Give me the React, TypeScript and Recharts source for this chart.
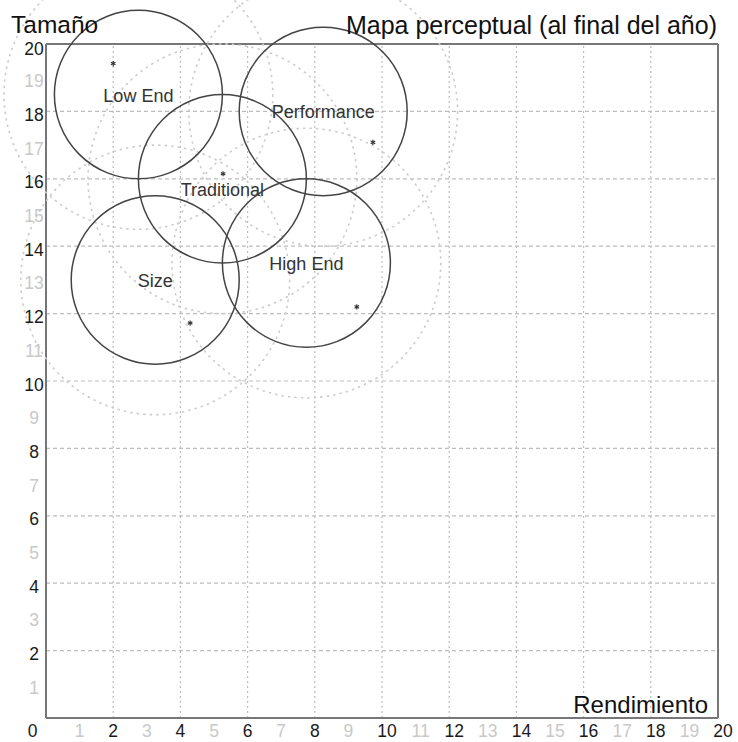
import React from 'react';
import * as R from 'recharts';

const { ScatterChart, Scatter, XAxis, YAxis, ReferenceLine } = R as any;

// ---- data ----
const segmentNames = ['Low End', 'Traditional', 'Performance', 'Size', 'High End'];
const centerX = [2.75, 5.25, 8.25, 3.25, 7.75];
const centerY = [18.5, 16.0, 18.0, 13.0, 13.5];
const idealX = [2.0, 5.27, 9.73, 4.29, 9.25];
const idealY = [19.42, 16.15, 17.08, 11.72, 12.2];
const fineCutRadius = 2.5;
const roughCutRadius = 4;
const axisTicks = [0, 1, 2, 3, 4, 5, 6, 7, 8, 9, 10, 11, 12, 13, 14, 15, 16, 17, 18, 19, 20];
const gridTicks = [2, 4, 6, 8, 10, 12, 14, 16, 18];
const yAxisTitle = 'Tamaño';
const xAxisTitle = 'Rendimiento';
const chartTitle = 'Mapa perceptual (al final del año)';

const segmentData = segmentNames.map((name, i) => ({ name, x: centerX[i], y: centerY[i] }));
const idealData = segmentNames.map((name, i) => ({ name, x: idealX[i], y: idealY[i] }));

// ---- layout ----
const W = 738;
const H = 742;
const MARGIN = { top: 44, right: 20, left: 0, bottom: 0 };
const Y_AXIS_W = 46;
const X_AXIS_H = 24;
const FONT = '"Liberation Sans", Arial, Helvetica, sans-serif';
const labelShift: Record<string, number> = { Traditional: 10 };

function usePxPerUnit() {
  const anyR = R as any;
  const plot = anyR.usePlotArea ? anyR.usePlotArea() : undefined;
  const xd = anyR.useXAxisDomain ? anyR.useXAxisDomain(0) : undefined;
  const yd = anyR.useYAxisDomain ? anyR.useYAxisDomain(0) : undefined;
  const pw = plot && plot.width ? plot.width : W - MARGIN.left - MARGIN.right - Y_AXIS_W;
  const ph = plot && plot.height ? plot.height : H - MARGIN.top - MARGIN.bottom - X_AXIS_H;
  const xs = xd && xd.length ? Number(xd[xd.length - 1]) - Number(xd[0]) : 20;
  const ys = yd && yd.length ? Number(yd[yd.length - 1]) - Number(yd[0]) : 20;
  return { kx: pw / (xs || 20), ky: ph / (ys || 20) };
}

function RoughCircle(props: any) {
  const { cx, cy } = props;
  const { kx, ky } = usePxPerUnit();
  if (cx == null || cy == null) return null;
  return (
    <ellipse
      cx={cx}
      cy={cy}
      rx={roughCutRadius * kx}
      ry={roughCutRadius * ky}
      fill="none"
      stroke="#cdcdcd"
      strokeWidth={1.6}
      strokeDasharray="2.5 4"
    />
  );
}

function FineCircle(props: any) {
  const { cx, cy, payload } = props;
  const { kx, ky } = usePxPerUnit();
  if (cx == null || cy == null) return null;
  const name = payload ? payload.name : '';
  return (
    <g>
      <ellipse
        cx={cx}
        cy={cy}
        rx={fineCutRadius * kx}
        ry={fineCutRadius * ky}
        fill="none"
        stroke="#444"
        strokeWidth={1.5}
      />
      <text
        x={cx}
        y={cy + (labelShift[name] || 0)}
        dy={7}
        textAnchor="middle"
        fontSize={18}
        fontFamily={FONT}
        fill="#333"
      >
        {name}
      </text>
    </g>
  );
}

function IdealMark(props: any) {
  const { cx, cy } = props;
  if (cx == null || cy == null) return null;
  const s = 2.6;
  return (
    <g stroke="#333" strokeWidth={1.2}>
      <line x1={cx} y1={cy - s} x2={cx} y2={cy + s} />
      <line x1={cx - s * 0.87} y1={cy - s * 0.5} x2={cx + s * 0.87} y2={cy + s * 0.5} />
      <line x1={cx - s * 0.87} y1={cy + s * 0.5} x2={cx + s * 0.87} y2={cy - s * 0.5} />
    </g>
  );
}

function XTick(props: any) {
  const { x, y, payload } = props;
  const v = Number(payload.value);
  const dx = v === 0 ? -13.5 : v >= 10 ? 5 : 0;
  return (
    <text
      x={x + dx}
      y={y}
      dy={19}
      textAnchor="middle"
      fontSize={17.5}
      fontFamily={FONT}
      fill={v % 2 === 0 ? '#1a1a1a' : '#c8c8c8'}
    >
      {v}
    </text>
  );
}

function YTick(props: any) {
  const { x, y, payload } = props;
  const v = Number(payload.value);
  if (v === 0) return null;
  return (
    <text
      x={x - 12}
      y={y}
      dy={v === 20 ? 11 : 9.5}
      textAnchor="middle"
      fontSize={17.5}
      fontFamily={FONT}
      fill={v % 2 === 0 ? '#1a1a1a' : '#c8c8c8'}
    >
      {v}
    </text>
  );
}

export default function App() {
  return (
    <div style={{ position: 'absolute', left: 0, top: 0, width: W, height: H, background: '#fff' }}>
      <ScatterChart width={W} height={H} margin={MARGIN} style={{ fontFamily: FONT }}>
        <XAxis
          type="number"
          dataKey="x"
          domain={[0, 20]}
          ticks={axisTicks}
          interval={0}
          height={X_AXIS_H}
          tickSize={0}
          tickMargin={0}
          tickLine={false}
          axisLine={{ stroke: '#777', strokeWidth: 2 }}
          tick={<XTick />}
        />
        <YAxis
          type="number"
          dataKey="y"
          domain={[0, 20]}
          ticks={axisTicks}
          interval={0}
          width={Y_AXIS_W}
          tickSize={0}
          tickMargin={0}
          tickLine={false}
          axisLine={{ stroke: '#777', strokeWidth: 2 }}
          tick={<YTick />}
        />
        {gridTicks.map((v) => (
          <ReferenceLine key={'h' + v} y={v} stroke="#bdbdbd" strokeWidth={1.2} strokeDasharray="4 3" ifOverflow="visible" />
        ))}
        {gridTicks.map((v) => (
          <ReferenceLine key={'v' + v} x={v} stroke="#bdbdbd" strokeWidth={1.2} strokeDasharray="2 3" ifOverflow="visible" />
        ))}
        <ReferenceLine y={20} stroke="#777" strokeWidth={2} ifOverflow="visible" />
        <ReferenceLine x={20} stroke="#777" strokeWidth={2} ifOverflow="visible" />
        <Scatter
          name="rough"
          data={segmentData}
          isAnimationActive={false}
          shape={(p: any) => <RoughCircle {...p} />}
        />
        <Scatter
          name="fine"
          data={segmentData}
          isAnimationActive={false}
          shape={(p: any) => <FineCircle {...p} />}
        />
        <Scatter
          name="ideal"
          data={idealData}
          isAnimationActive={false}
          shape={(p: any) => <IdealMark {...p} />}
        />
      </ScatterChart>
      <svg
        width={W}
        height={H}
        style={{ position: 'absolute', left: 0, top: 0, pointerEvents: 'none' }}
      >
        <text x={11} y={33} fontSize={24.5} fontFamily={FONT} fill="#111">
          {yAxisTitle}
        </text>
        <text x={717} y={34} fontSize={25} fontFamily={FONT} fill="#111" textAnchor="end">
          {chartTitle}
        </text>
        <text x={708} y={713} fontSize={24} fontFamily={FONT} fill="#111" textAnchor="end">
          {xAxisTitle}
        </text>
      </svg>
    </div>
  );
}
